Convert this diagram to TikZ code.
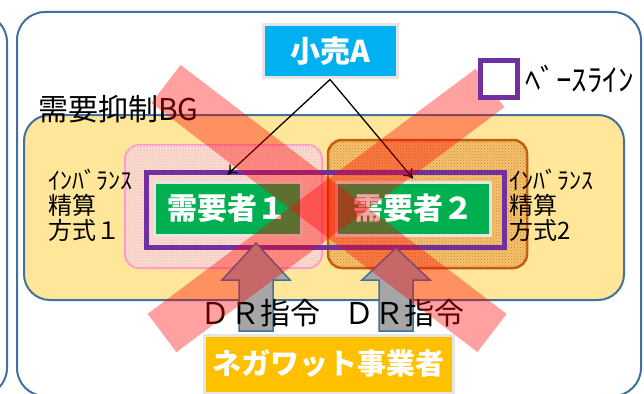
\documentclass[tikz,border=0pt]{standalone}
\usepackage{fontspec}
\setmainfont{Noto Sans CJK JP}
\usetikzlibrary{positioning, patterns, arrows.meta}
\definecolor{frameblue}{HTML}{41719C}
\definecolor{bgyellow}{HTML}{FFE699}
\definecolor{retailcyan}{HTML}{00B0F0}
\definecolor{usergreen}{HTML}{00B050}
\definecolor{negaorange}{HTML}{FFC000}
\definecolor{baseviolet}{HTML}{7030A0}
\definecolor{pinkline}{HTML}{FF99CC}
\definecolor{pinkfill}{HTML}{F8D0C4}
\definecolor{brownline}{HTML}{C55A11}
\definecolor{brownfill}{HTML}{F4C46A}
\definecolor{arrowgray}{HTML}{A6A6A6}
\tikzset{
	frame/.style={draw=frameblue, line width=2pt, rounded corners=28pt}, % the blue rounded panels
	namebox/.style={text=white, inner sep=0pt, draw=white!90!black, line width=3pt, font=\fontsize{30}{32}\selectfont\bfseries}, % coloured boxes with white names
	sidetext/.style={align=left, inner sep=0pt, font=\fontsize{24}{25}\selectfont}, % settlement labels
	demand/.style={->, >={To[length=9pt,width=12pt]}, line width=1.3pt}, % arrows from the retailer
	drarrow/.style={draw=frameblue, fill=arrowgray, line width=1.5pt}, % grey block arrows
	redx/.style={red, opacity=0.37, line width=48pt}, % the big cross
}

\begin{document}
\begin{tikzpicture}[x=1pt, y=-1pt]
	\useasboundingbox (0,0) rectangle (644,393);
	\clip (0,0) rectangle (644,393);
	\fill[white] (0,0) rectangle (644,393);

	% panels
	\draw[frame] (-60,14) rectangle (7,396);
	\draw[frame] (17,12) rectangle (641,396);
	\node[draw=frameblue, fill=bgyellow, line width=2pt, rounded corners=26pt, minimum width=600pt, minimum height=185pt] (bg) at (324,207.5) {};
	\node[anchor=south west, inner sep=0pt, font=\fontsize{30}{32}\selectfont] (bglabel) at (38,123) {需要抑制BG};

	% settlement groups
	\node[draw=pinkline, fill=pinkfill, line width=2pt, rounded corners=14pt, minimum width=197pt, minimum height=123pt,
		postaction={pattern=crosshatch dots, pattern color=white!70!pinkfill}] (grp1) at (223.5,206.5) {};
	\node[draw=brownline, fill=brownfill, line width=2.5pt, rounded corners=14pt, minimum width=199pt, minimum height=128pt,
		postaction={pattern=crosshatch dots, pattern color=brownline!80}] (grp2) at (427.5,204) {};
	\node[draw=baseviolet, line width=5pt, minimum width=358pt, minimum height=75pt] (base) at (325,209.5) {};

	\node[namebox, fill=usergreen, minimum width=147pt, minimum height=53pt] (user1) at (227.5,208.5) {需要者１};
	\node[namebox, fill=usergreen, minimum width=154pt, minimum height=53pt] (user2) at (413,208.5) {需要者２};
	\node[sidetext, anchor=west] (side1) at (48,205) {ｲﾝﾊﾞﾗﾝｽ\\精算\\方式１};
	\node[sidetext, anchor=west] (side2) at (509,205) {ｲﾝﾊﾞﾗﾝｽ\\精算\\方式2};

	% retailer
	\node[namebox, fill=retailcyan, minimum width=134pt, minimum height=53pt] (retail) at (330,51.5) {小売A};
	\draw[demand] (retail.south) -- ([yshift=6pt]user1.north);
	\draw[demand] (retail.south) -- ([yshift=2pt]user2.north);

	% aggregator and DR orders
	\node[namebox, fill=negaorange, minimum width=249pt, minimum height=58pt, font=\fontsize{29}{31}\selectfont\bfseries] (nega) at (328.5,364) {ネガワット事業者};
	\foreach \cx/\ty in {256/243, 396/248}
		\draw[drarrow] (\cx-17,331) -- (\cx-17,280) -- (\cx-34,280) -- (\cx,\ty) -- (\cx+34,280) -- (\cx+17,280) -- (\cx+17,331) -- cycle;
	\node[inner sep=0pt, font=\fontsize{30}{32}\selectfont] (dr1) at (260,313) {ＤＲ指令};
	\node[inner sep=0pt, font=\fontsize{30}{32}\selectfont] (dr2) at (404,313) {ＤＲ指令};

	% cross
	\draw[redx] (166,84) -- (492,333);
	\draw[redx] (490,88) -- (162,333);

	% legend
	\node[draw=baseviolet, fill=white, line width=5pt, minimum size=37pt] (legendbox) at (499,79) {};
	\node[right=5pt of legendbox, inner sep=0pt, font=\fontsize{31}{32}\selectfont] (legendtext) {ﾍﾞｰｽﾗｲﾝ};
\end{tikzpicture}
\end{document}
